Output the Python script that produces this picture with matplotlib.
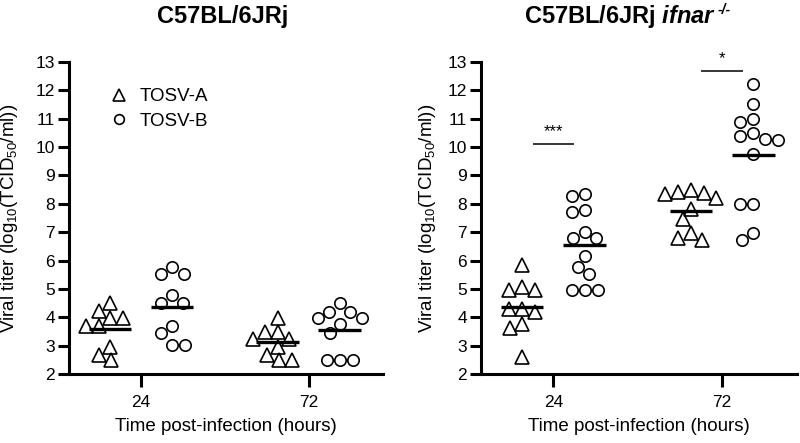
import numpy as np
import matplotlib.pyplot as plt

plt.rcParams['font.family'] = 'Liberation Sans'
plt.rcParams['mathtext.fontset'] = 'custom'
plt.rcParams['mathtext.rm'] = 'Liberation Sans'
plt.rcParams['mathtext.it'] = 'Liberation Sans:italic:bold'
plt.rcParams['mathtext.bf'] = 'Liberation Sans:bold'

# data (log10 TCID50/ml)
times = ['24', '72']
strains = ['TOSV-A', 'TOSV-B']

wt_a24 = [4.49, 4.22, 3.96, 3.96, 3.69, 3.69, 2.96, 2.67, 2.49]
wt_b24 = [5.76, 5.52, 5.52, 4.78, 4.51, 4.51, 3.69, 3.43, 3.02, 3.02]
wt_a72 = [3.96, 3.49, 3.49, 3.25, 3.25, 2.96, 2.67, 2.49, 2.49]
wt_b72 = [4.49, 4.20, 4.20, 3.96, 3.96, 3.76, 3.43, 2.49, 2.49, 2.49]

ko_a24 = [5.84, 5.07, 4.96, 4.96, 4.28, 4.28, 4.19, 3.78, 3.61, 2.61]
ko_b24 = [8.36, 8.27, 7.77, 7.71, 7.01, 6.78, 6.78, 6.17, 5.78, 5.51, 4.96, 4.96, 4.96]
ko_a72 = [8.50, 8.42, 8.38, 8.33, 8.22, 7.83, 7.45, 6.98, 6.81, 6.72]
ko_b72 = [12.21, 11.51, 11.00, 10.88, 10.50, 10.38, 10.30, 10.26, 9.75, 7.99, 7.99, 6.98, 6.74]

ko_stars = ['***', '*']
ko_star_y = [10.12, 12.70]

pos = [0, 1, 2.7, 3.7]
markers = ['^', 'o']


def swarm(ax, x0, vals, d):
    # simple beeswarm in pixel space
    tr = ax.transData
    sx = tr.transform((1, 0))[0] - tr.transform((0, 0))[0]
    sy = tr.transform((0, 1))[1] - tr.transform((0, 0))[1]
    cands = sorted(np.arange(-80, 80.5, 0.5), key=abs)
    placed = []
    xs = []
    for v in vals:
        y = v * sy
        for off in cands:
            if all((off - px) ** 2 + (y - py) ** 2 >= d * d for px, py in placed):
                break
        placed.append((off, y))
        xs.append(x0 + off / sx)
    return xs


def panel(ax, groups):
    ax.set_xlim(-0.66, 4.4)
    ax.set_ylim(2, 13)
    for i, vals in enumerate(groups):
        m = markers[i % 2]
        xs = swarm(ax, pos[i], vals, 13)
        ax.plot(xs, vals, ls='none', marker=m, ms=10 if m == '^' else 8.2,
                mfc='none', mec='black', mew=1.2, zorder=2,
                label=strains[i] if i < 2 else None, clip_on=False)
        ax.hlines(np.mean(vals), pos[i] - 0.34, pos[i] + 0.34, color='black', lw=2.4, zorder=3)
    ax.set_xticks([0.5, 3.2])
    ax.set_xticklabels(times)
    ax.set_yticks(range(2, 14))
    ax.spines['top'].set_visible(False)
    ax.spines['right'].set_visible(False)
    for s in ['left', 'bottom']:
        ax.spines[s].set_linewidth(2.2)
    ax.tick_params(axis='y', length=8, width=2.2, labelsize=12.5, pad=2)
    ax.tick_params(axis='x', length=9, width=2.2, labelsize=12.5, pad=6)
    ax.set_xlabel('Time post-infection (hours)', fontsize=13.5, labelpad=6)
    ax.set_ylabel(r'Viral titer (log$_{\mathrm{10}}$(TCID$_{\mathrm{50}}$/ml))', fontsize=13.5)


fig = plt.figure(figsize=(8, 4.43), dpi=100)
ax1 = fig.add_axes([69 / 800, 1 - 374 / 443, 314 / 800, 312 / 443])
ax2 = fig.add_axes([481 / 800, 1 - 374 / 443, 316 / 800, 312 / 443])

panel(ax1, [wt_a24, wt_b24, wt_a72, wt_b72])
panel(ax2, [ko_a24, ko_b24, ko_a72, ko_b72])
ax1.yaxis.set_label_coords(-0.156, 0.5)
ax2.yaxis.set_label_coords(-0.136, 0.5)

ax1.legend(loc='upper left', bbox_to_anchor=(0.07, 0.97), frameon=False,
           fontsize=13.5, handletextpad=0.5, labelspacing=0.4, handlelength=1.2,
           markerscale=0.85)

# significance bars
for k, (s, h) in enumerate(zip(ko_stars, ko_star_y)):
    x0, x1 = pos[2 * k] + 0.17, pos[2 * k + 1] - 0.17
    ax2.hlines(h, x0, x1, color='black', lw=1.1)
    ax2.text((x0 + x1) / 2, h + 0.15, s, ha='center', va='bottom', fontsize=12)

fig.text(223 / 800, 1 - 16 / 443, 'C57BL/6JRj', ha='center', va='center',
         fontsize=17, fontweight='bold')
t2 = fig.text(620 / 800, 1 - 16 / 443, r'C57BL/6JRj $\mathit{ifnar}$', ha='center',
              va='center', fontsize=17, fontweight='bold')
fig.canvas.draw()
bb = t2.get_window_extent()
fig.text((bb.x1 + 2) / 800, (bb.y1 - 1) / 443, '-/-', ha='left', va='top',
         fontsize=10, fontweight='bold', style='italic')

fig.savefig('out.png', dpi=100)
